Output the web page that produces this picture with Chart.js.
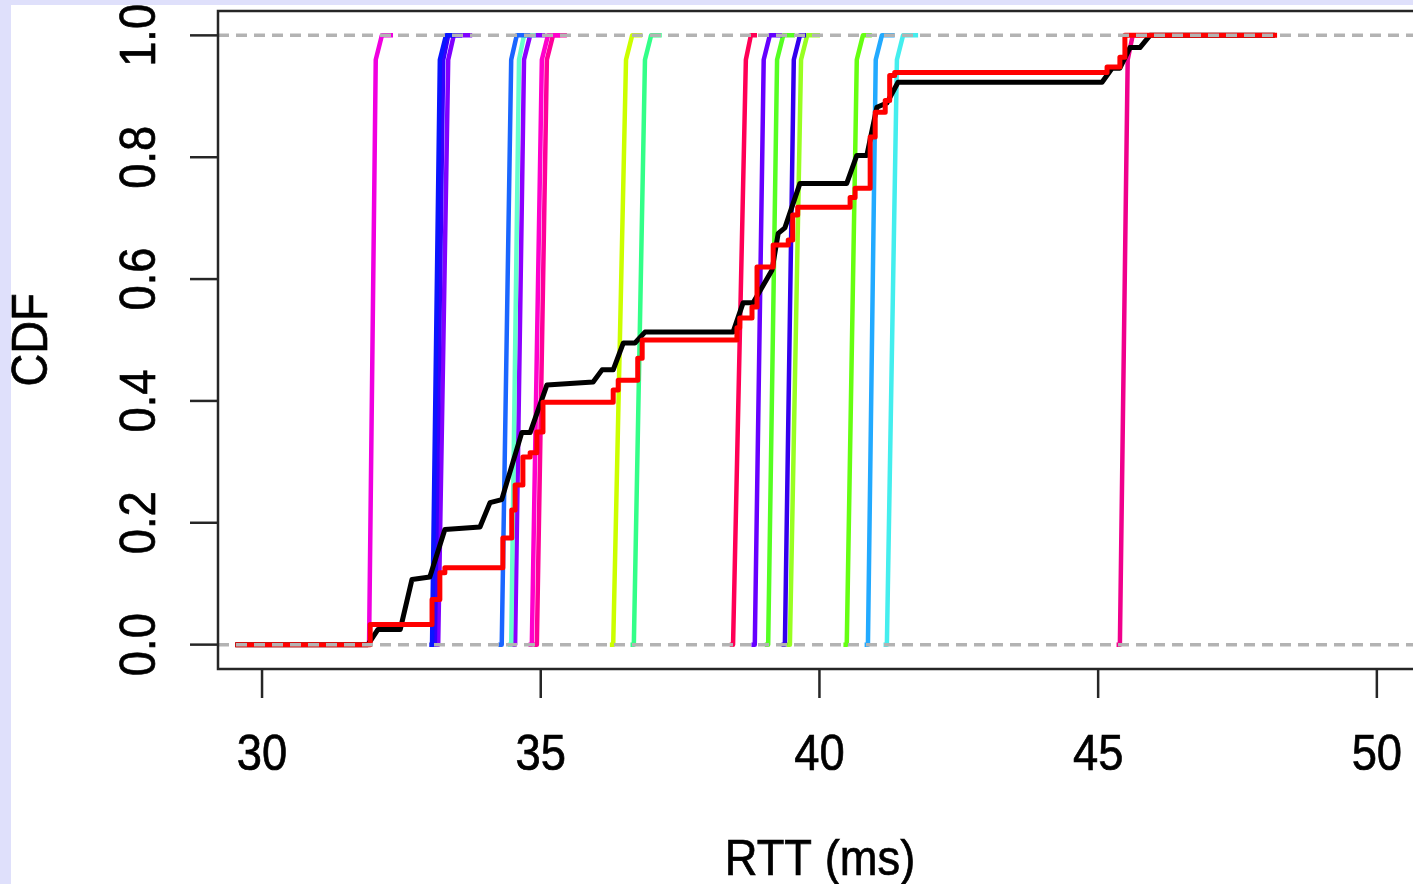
<!DOCTYPE html>
<html>
<head>
<meta charset="utf-8">
<title>RTT CDF</title>
<script src="https://cdn.jsdelivr.net/npm/chart.js@4.4.0/dist/chart.umd.min.js"></script>
<style>
  html, body { margin: 0; padding: 0; overflow: hidden; background: #dfe0fb; }
  canvas { display: block; }
</style>
</head>
<body>
<canvas id="rtt-cdf" width="1440" height="884"></canvas>
<script>
// Aggregate ECDF (black), RTT in ms and cumulative share
const allRtt = [29.52, 31.90, 32.08, 32.48, 32.69, 33.01, 33.28, 33.91, 34.09, 34.30,
  34.66, 34.81, 35.11, 35.94, 36.10, 36.30, 36.48, 36.69, 36.87, 38.45,
  38.63, 38.81, 39.15, 39.26, 39.38, 39.65, 40.49, 40.67, 40.85, 41.03,
  41.21, 41.41, 45.07, 45.25, 45.39, 45.57, 45.75, 45.93, 48.17];
const allCdf = [0, 0, 0.025, 0.025, 0.107, 0.111, 0.189, 0.193, 0.233, 0.238,
  0.348, 0.348, 0.426, 0.431, 0.451, 0.451, 0.495, 0.495, 0.513, 0.513,
  0.561, 0.561, 0.615, 0.675, 0.684, 0.757, 0.757, 0.803, 0.803, 0.882,
  0.889, 0.923, 0.923, 0.946, 0.946, 0.980, 0.980, 1, 1];

// Second aggregate ECDF (red), drawn as steps
const redRtt = [29.52, 31.94, 33.05, 33.19, 33.28, 34.32, 34.48, 34.54, 34.68, 34.81,
  34.93, 35.04, 36.30, 36.39, 36.74, 36.82, 38.52, 38.57, 38.79, 38.88,
  39.17, 39.44, 39.52, 39.61, 40.55, 40.64, 40.91, 41.00, 41.18, 41.26,
  41.35, 45.16, 45.39, 45.48, 48.21];
const redCdf = [0, 0.033, 0.074, 0.118, 0.126, 0.175, 0.221, 0.262, 0.308, 0.315,
  0.349, 0.398, 0.418, 0.434, 0.470, 0.500, 0.520, 0.536, 0.554, 0.620,
  0.656, 0.664, 0.705, 0.718, 0.734, 0.749, 0.833, 0.874, 0.893, 0.934,
  0.939, 0.948, 0.964, 1, 1];

// Single-path curves: RTT at these CDF levels
const probeLevels = [0, 0, 0.96, 1, 1];
const probeRtt = [
  [31.83, 31.92, 32.04, 32.15, 32.35],
  [33.00, 33.05, 33.19, 33.30, 33.46],
  [33.04, 33.10, 33.25, 33.34, 33.59],
  [33.10, 33.16, 33.34, 33.44, 33.77],
  [34.24, 34.30, 34.47, 34.57, 34.81],
  [34.41, 34.47, 34.61, 34.70, 34.91],
  [34.48, 34.54, 34.70, 34.81, 35.08],
  [34.78, 34.84, 35.02, 35.13, 35.35],
  [34.87, 34.93, 35.11, 35.22, 35.47],
  [36.24, 36.30, 36.53, 36.64, 36.82],
  [36.61, 36.67, 36.87, 36.98, 37.17],
  [38.39, 38.45, 38.68, 38.77, 38.88],
  [38.78, 38.84, 39.00, 39.11, 39.33],
  [39.02, 39.08, 39.24, 39.35, 39.56],
  [39.32, 39.38, 39.54, 39.65, 39.76],
  [39.41, 39.47, 39.67, 39.78, 40.01],
  [40.43, 40.49, 40.67, 40.78, 40.94],
  [40.81, 40.87, 41.01, 41.12, 41.35],
  [41.15, 41.21, 41.39, 41.50, 41.77],
  [45.33, 45.39, 45.53, 45.62, 45.75]
];
const probeColors = [
  "#f000e0", "#0a14ff", "#3300ff", "#8000ff", "#1a66ff", "#66ffcc", "#8c00ff",
  "#ff00cc", "#ff0099", "#ccff00", "#33ff88", "#ff0055", "#6600ff", "#55ff22",
  "#3300ee", "#99ff22", "#66ff11", "#22aaff", "#44eeee", "#f0008c"
];

// Axis ticks
const xTicks = [30, 35, 40, 45, 50];
const yTicks = [0, 0.2, 0.4, 0.6, 0.8, 1.0];
const refLines = [0, 1];

function toPoints(xs, ys) {
  return xs.map((x, i) => ({ x: x, y: ys[i] }));
}

// red first so it is drawn on top, then black, then the single paths
const datasets = [
  { label: "red", data: toPoints(redRtt, redCdf), borderColor: "#ff0000", borderWidth: 5, stepped: true },
  { label: "all", data: toPoints(allRtt, allCdf), borderColor: "#000000", borderWidth: 5 }
];
probeRtt.forEach((xs, i) => {
  datasets.push({
    label: "path " + (i + 1),
    data: toPoints(xs, probeLevels),
    borderColor: probeColors[i],
    borderWidth: 4.5
  });
});

// lavender frame around the white page
const paper = {
  id: "paper",
  beforeDraw(chart) {
    const ctx = chart.ctx;
    ctx.save();
    ctx.fillStyle = "#dfe0fb";
    ctx.fillRect(0, 0, chart.width, chart.height);
    ctx.fillStyle = "#ffffff";
    ctx.fillRect(11, 5, chart.width - 11, chart.height - 5);
    ctx.restore();
  }
};

function drawText(ctx, text, x, y, rot) {
  ctx.save();
  ctx.translate(x, y);
  ctx.rotate(rot);
  ctx.scale(1.03, 1.12);
  ctx.fillText(text, 0, 0);
  ctx.strokeText(text, 0, 0);
  ctx.restore();
}

// R-style box, ticks, dashed 0/1 lines and labels
const rAxes = {
  id: "rAxes",
  afterDatasetsDraw(chart) {
    const { ctx, chartArea: a, scales } = chart;
    ctx.save();
    ctx.beginPath();
    ctx.rect(a.left, a.top, a.right - a.left, a.bottom - a.top);
    ctx.clip();
    ctx.strokeStyle = "#b3b3b3";
    ctx.lineWidth = 3.5;
    ctx.setLineDash([11, 7]);
    refLines.forEach(v => {
      const py = scales.y.getPixelForValue(v);
      ctx.beginPath();
      ctx.moveTo(a.left, py);
      ctx.lineTo(a.right, py);
      ctx.stroke();
    });
    ctx.restore();
  },
  afterDraw(chart) {
    const { ctx, chartArea: a, scales } = chart;
    ctx.save();
    ctx.strokeStyle = "#262626";
    ctx.lineWidth = 2.5;
    ctx.strokeRect(a.left, a.top, a.right - a.left, a.bottom - a.top);

    xTicks.forEach(v => {
      const px = scales.x.getPixelForValue(v);
      ctx.beginPath();
      ctx.moveTo(px, a.bottom);
      ctx.lineTo(px, a.bottom + 29);
      ctx.stroke();
    });
    yTicks.forEach(v => {
      const py = scales.y.getPixelForValue(v);
      ctx.beginPath();
      ctx.moveTo(a.left - 28, py);
      ctx.lineTo(a.left, py);
      ctx.stroke();
    });

    ctx.fillStyle = "#000000";
    ctx.strokeStyle = "#000000";
    ctx.lineWidth = 0.6;
    ctx.font = "44px 'Liberation Sans', Arial, sans-serif";
    ctx.textAlign = "center";
    ctx.textBaseline = "alphabetic";
    xTicks.forEach(v => {
      drawText(ctx, String(v), scales.x.getPixelForValue(v), 770, 0);
    });
    yTicks.forEach(v => {
      drawText(ctx, v.toFixed(1), 155, scales.y.getPixelForValue(v), -Math.PI / 2);
    });

    drawText(ctx, "RTT (ms)", (a.left + a.right) / 2, 875, 0);
    drawText(ctx, "CDF", 47, (a.top + a.bottom) / 2, -Math.PI / 2);
    ctx.restore();
  }
};

new Chart(document.getElementById("rtt-cdf"), {
  type: "line",
  data: { datasets: datasets },
  options: {
    responsive: false,
    animation: false,
    devicePixelRatio: 1,
    layout: { padding: { left: 218, top: 11, right: 18, bottom: 215 } },
    plugins: {
      legend: { display: false },
      tooltip: { enabled: false }
    },
    elements: {
      point: { radius: 0 },
      line: { tension: 0, borderJoinStyle: "round" }
    },
    scales: {
      x: { type: "linear", min: 29.21, max: 50.81, display: false },
      y: { type: "linear", min: -0.04, max: 1.04, display: false }
    }
  },
  plugins: [paper, rAxes]
});
</script>
</body>
</html>
